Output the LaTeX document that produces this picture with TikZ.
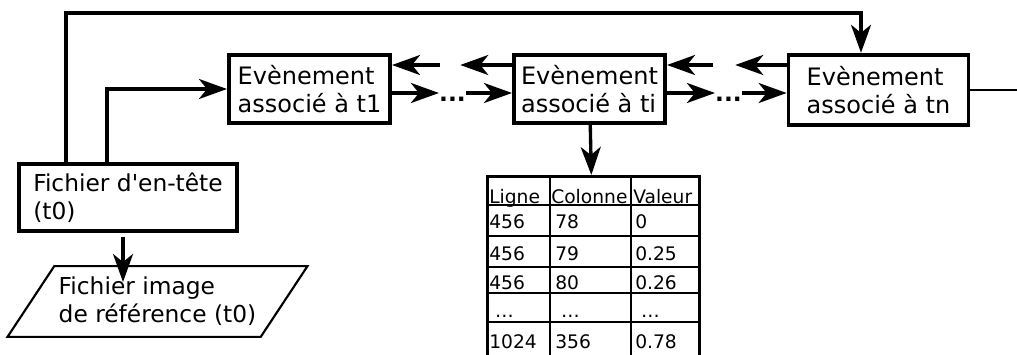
\documentclass[tikz,border=0pt]{standalone}
\usepackage{fontspec}
\setmainfont{DejaVu Sans}
\usetikzlibrary{calc,positioning,arrows.meta,shapes.geometric}
\usetikzlibrary{bayesnet}

\tikzset{
  evt/.style={draw, line width=2.8pt, align=left, inner sep=2pt, font=\fontsize{18}{21}\selectfont},
  arr/.style={line width=2.5pt, -{Stealth[length=21pt 0,width=15pt 0,inset=6pt 0]}},
  gap/.style={inner sep=0pt, minimum height=6pt},
  dots/.style={gap, font=\bfseries\fontsize{17.5}{21}\selectfont},
  cell/.style={font=\fontsize{14}{16}\selectfont, anchor=base west, inner sep=0pt},
}

\begin{document}
\begin{tikzpicture}[x=0.75pt, y=-0.75pt]
		\useasboundingbox (0,0) rectangle (1017,354);
		% Events
		\node[evt, minimum width=121pt, minimum height=51.5pt] (t1) at (309.5,89) {Evènement\\associé à t1} ;
		\node[evt, minimum width=113.5pt, minimum height=51.5pt] (ti) at (589.5,89) {Evènement\\associé à ti} ;
		\node[evt, minimum width=135pt, minimum height=53pt] (tn) at (878.5,90) {Evènement\\associé à tn} ;
		% Header and image
		\node[evt, font=\fontsize{17.5}{21}\selectfont, minimum width=163.5pt, minimum height=50pt] (hdr) at (128,197.5) {Fichier d\textquotesingle en-tête\\(t0)} ;
		\node[draw, trapezium, trapezium left angle=51, trapezium right angle=129, trapezium stretches body,
			line width=1.6pt, minimum width=215pt, minimum height=53pt, align=left,
			font=\fontsize{17.5}{21}\selectfont] (ref) at (157.5,301.5) {Fichier image\\de référence (t0)} ;
		% Gaps between events
		\coordinate (r2) at (0,93) ;
		\node[gap, minimum width=15pt] (g1) at (450,65) {} ;
		\node[gap, minimum width=16.5pt] (g2) at (724,65) {} ;
		\node[dots, minimum width=15.75pt] (d1) at (452.5,99) {...} ;
		\node[dots, minimum width=17.25pt] (d2) at (728.5,99) {...} ;
		\draw[arr] (g1.west) -- (g1.west -| t1.east) ;
		\draw[arr] (g1.east -| ti.west) -- (g1.east) ;
		\draw[arr] (t1.east |- r2) -- (d1.west |- r2) ;
		\draw[arr] (d1.east |- r2) -- (ti.west |- r2) ;
		\draw[arr] (g2.west) -- (g2.west -| ti.east) ;
		\draw[arr] (g2.east -| tn.west) -- (g2.east) ;
		\draw[arr] (ti.east |- r2) -- (d2.west |- r2) ;
		\draw[arr] (d2.east |- r2) -- (tn.west |- r2) ;
		% Links from header
		\coordinate (up) at (66,13) ;
		\coordinate (turn) at (861,13) ;
		\coordinate (lnk) at (107,92) ;
		\coordinate (dn) at (123,282) ;
		\coordinate (out) at (1017,90) ;
		\draw[arr] (up |- hdr.north) -- (up) -- (turn) -- (turn |- tn.north) ;
		\draw[arr] (lnk |- hdr.north) |- (t1.west) ;
		\draw[arr] ([yshift=-3pt]dn |- hdr.south) -- (dn) ;
		\draw[line width=1.2pt] (tn.east) -- (out) ;
		% Table
		\node[draw, line width=2pt, anchor=north west, minimum width=159pt, minimum height=140pt, inner sep=0pt] (tab) at (486,175) {} ;
		\edge [arr] {ti} {tab} ;
		\foreach \x in {550,631}
			\draw[line width=1.6pt] (\x,175) -- (\x,358) ;
		\draw[line width=1.4pt] (486,205) -- (698,205) ;
		\foreach \y in {236,267,293,322}
			\draw[line width=1pt] (486,\y) -- (698,\y) ;
		\node[cell] (hl) at (489,203) {Ligne} ;
		\node[cell] (hc) at (551,203) {Colonne} ;
		\node[cell] (hv) at (633,203) {Valeur} ;
		\foreach \yy/\a/\b/\c [count=\i] in {228/456/78/0, 260/456/79/0.25, 289/456/80/0.26, 317/\ \ldots/\ \ldots/\ \ldots, 348/1024/356/0.78}{
			\node[cell] (a\i) at (489,\yy) {\a} ;
			\node[cell] (b\i) at (555,\yy) {\b} ;
			\node[cell] (c\i) at (635,\yy) {\c} ;
		}
	\end{tikzpicture}
\end{document}
